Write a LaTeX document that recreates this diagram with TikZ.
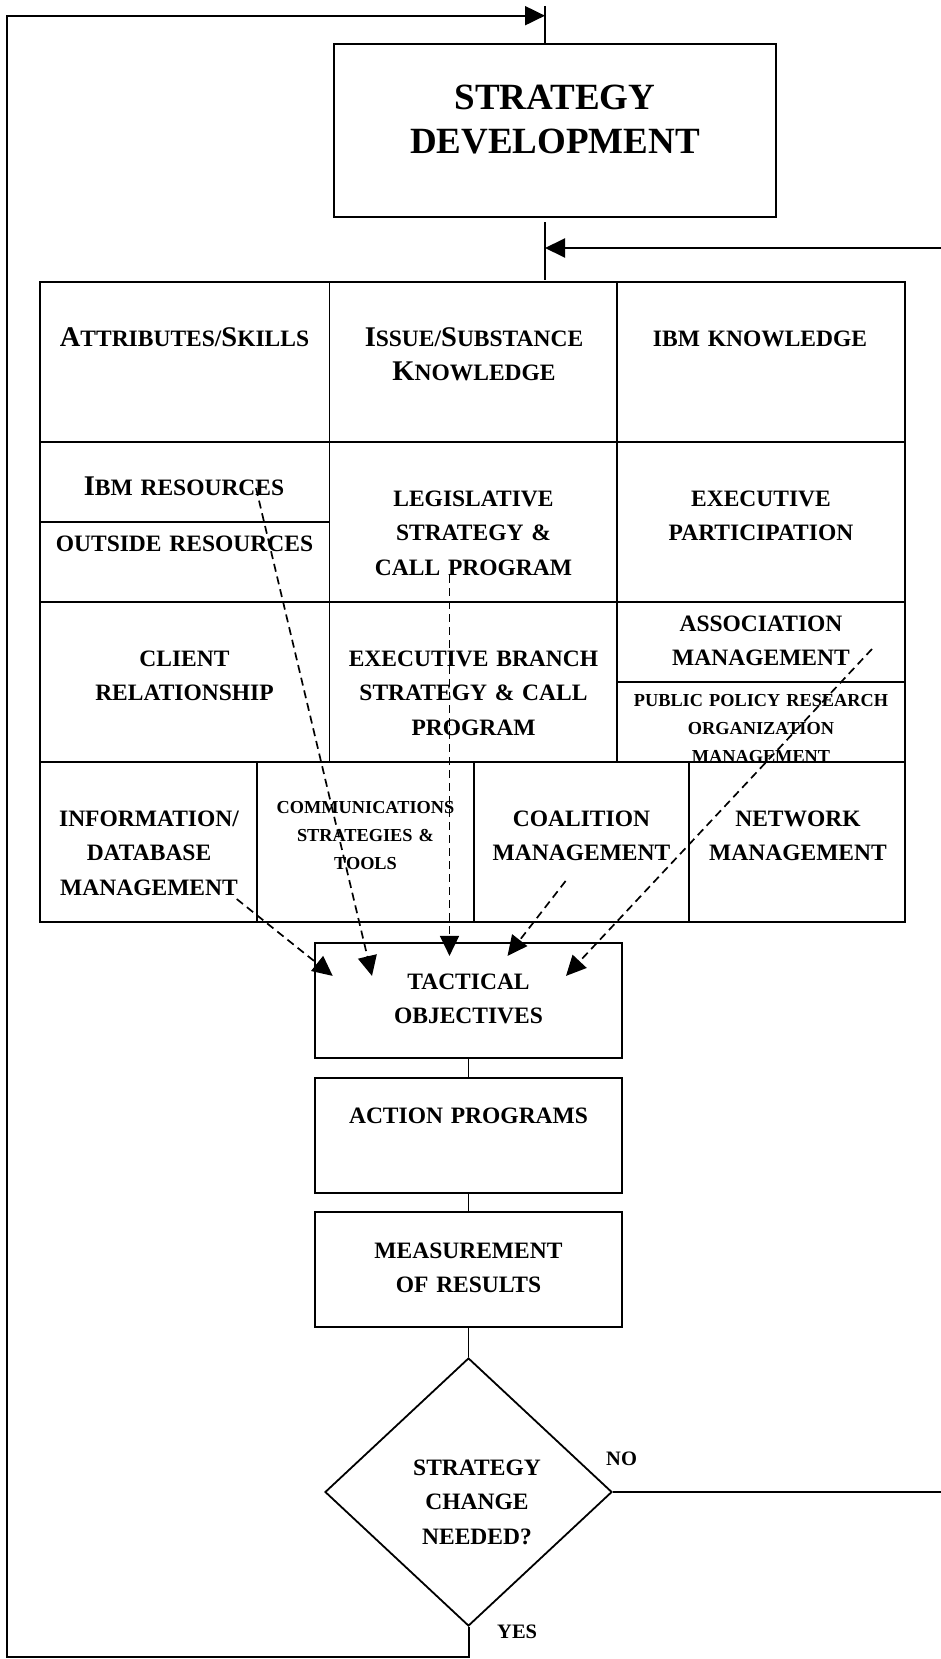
\documentclass[tikz,border=0pt]{standalone}
\usepackage{fontspec}
\setmainfont{Liberation Serif}
\usetikzlibrary{arrows.meta, shapes.geometric}
\newcommand\capA[1]{{\fontsize{28.5}{34.5}\selectfont #1}}

\begin{document}
\begin{tikzpicture}[x=1pt, y=-1pt,
  cell/.style={draw, line width=1.6pt, anchor=north west, inner sep=0pt, outer sep=0pt},
  box/.style={draw, line width=2.2pt, minimum width=307pt, minimum height=115pt, inner sep=0pt},
  txt/.style={anchor=base, align=center, inner sep=0pt, text width=280pt, font=\fontsize{23.5}{34.5}\selectfont\bfseries},
  sm/.style={txt, font=\fontsize{18.3}{28}\selectfont\bfseries},
  arr/.style={-{Triangle[length=20pt, width=19pt]}},
  dsh/.style={arr, line width=1.7pt, dash pattern=on 8pt off 5pt},
  fb/.style={arr, line width=2pt}]
  \useasboundingbox (0,0) rectangle (941,1659);
  \clip (0,0) rectangle (941,1659);

  % strategy development
  \node[box, minimum width=442pt, minimum height=173pt] (sdv) at (555,130.5) {};
  \node[txt, font=\fontsize{37}{44}\selectfont\bfseries, text width=420pt] (sdvT) at (555,110) {STRATEGY\\DEVELOPMENT};

  % grid of skills
  \node[cell, minimum width=289.5pt, minimum height=160pt] (attr) at (40,282) {};
  \node[cell, minimum width=287.5pt, minimum height=160pt] (issue) at (329.5,282) {};
  \node[cell, minimum width=288pt, minimum height=160pt] (ibmk) at (617,282) {};
  \node[cell, minimum width=289.5pt, minimum height=80pt] (ibmres) at (40,442) {};
  \node[cell, minimum width=289.5pt, minimum height=80pt] (outres) at (40,522) {};
  \node[cell, minimum width=287.5pt, minimum height=160pt] (legis) at (329.5,442) {};
  \node[cell, minimum width=288pt, minimum height=160pt] (execp) at (617,442) {};
  \node[cell, minimum width=289.5pt, minimum height=160pt] (client) at (40,602) {};
  \node[cell, minimum width=287.5pt, minimum height=160pt] (execbr) at (329.5,602) {};
  \node[cell, minimum width=288pt, minimum height=80pt] (assoc) at (617,602) {};
  \node[cell, minimum width=288pt, minimum height=80pt] (pubpol) at (617,682) {};
  \node[cell, minimum width=217pt, minimum height=160pt] (info) at (40,762) {};
  \node[cell, minimum width=217pt, minimum height=160pt] (comm) at (257,762) {};
  \node[cell, minimum width=215pt, minimum height=160pt] (coal) at (474,762) {};
  \node[cell, minimum width=216pt, minimum height=160pt] (netw) at (689,762) {};

  \node[txt] (attrT) at (184.5,346) {\capA{A}TTRIBUTES/\capA{S}KILLS};
  \node[txt] (issueT) at (474,346) {\capA{I}SSUE/\capA{S}UBSTANCE\\\capA{K}NOWLEDGE};
  \node[txt] (ibmkT) at (760,346) {IBM KNOWLEDGE};
  \node[txt] (ibmresT) at (184,495) {\capA{I}BM RESOURCES};
  \node[txt] (outresT) at (184.5,551) {OUTSIDE RESOURCES};
  \node[txt] (legisT) at (473.5,506) {LEGISLATIVE\\STRATEGY \&\\CALL PROGRAM};
  \node[txt] (execpT) at (761,506) {EXECUTIVE\\PARTICIPATION};
  \node[txt] (clientT) at (184.5,666) {CLIENT\\RELATIONSHIP};
  \node[txt] (execbrT) at (473.5,666) {EXECUTIVE BRANCH\\STRATEGY \& CALL\\PROGRAM};
  \node[txt] (assocT) at (761,631) {ASSOCIATION\\MANAGEMENT};
  \node[sm] (pubpolT) at (761,706) {PUBLIC POLICY RESEARCH\\ORGANIZATION\\MANAGEMENT};
  \node[txt] (infoT) at (149,826) {INFORMATION/\\DATABASE\\MANAGEMENT};
  \node[sm] (commT) at (365.5,813) {COMMUNICATIONS\\STRATEGIES \&\\TOOLS};
  \node[txt] (coalT) at (581.5,826) {COALITION\\MANAGEMENT};
  \node[txt] (netwT) at (798,826) {NETWORK\\MANAGEMENT};

  % tactical chain
  \node[box] (tac) at (468.5,1000.5) {};
  \node[box] (act) at (468.5,1135.5) {};
  \node[box] (meas) at (468.5,1269.5) {};
  \node[draw, shape=diamond, line width=1.8pt, minimum width=287pt, minimum height=268pt, inner sep=0pt] (chg) at (468.5,1492) {};
  \node[txt] (tacT) at (468.5,989) {TACTICAL\\OBJECTIVES};
  \node[txt] (actT) at (468.5,1123) {ACTION PROGRAMS};
  \node[txt] (measT) at (468.5,1258) {MEASUREMENT\\OF RESULTS};
  \node[txt] (chgT) at (477,1475) {STRATEGY\\CHANGE\\NEEDED?};
  \node[anchor=base west, inner sep=0pt, font=\fontsize{20.5}{24}\selectfont\bfseries] (noT) at (606,1465) {NO};
  \node[anchor=base west, inner sep=0pt, font=\fontsize{20.5}{24}\selectfont\bfseries] (yesT) at (497,1638) {YES};

  \draw[line width=1.8pt] (tac) -- (act);
  \draw[line width=1.8pt] (act) -- (meas);
  \draw[line width=1.8pt] (meas) -- (chg);

  % stems of strategy box
  \coordinate (stubTop) at (545,6);
  \coordinate (inTop) at (545,15.7);
  \coordinate (stubA) at (545,222);
  \coordinate (inMid) at (545,248);
  \coordinate (stubB) at (545,280);
  \draw[line width=1.8pt] (stubTop) -- (stubTop |- sdv.north);
  \draw[line width=1.8pt] (stubA) -- (stubB);

  % feedback loops
  \coordinate (loopL) at (7,1657);
  \coordinate (loopR) at (950,1492);
  \draw[fb] (chg.south) |- (loopL) |- (inTop);
  \draw[fb] (chg.east) -- (loopR) |- (inMid);

  % dashed inputs
  \coordinate (dIbm) at (256,488);
  \coordinate (dLeg) at (449.5,575);
  \coordinate (dAsc) at (872,649);
  \coordinate (dCoa) at (565.6,881);
  \coordinate (dInf) at (236.7,899);
  \draw[dsh] (dInf) -- ([shift={(-135.8,34)}]tac.north);
  \draw[dsh] (dIbm) -- ([shift={(-96.5,34)}]tac.north);
  \draw[dsh] (dLeg) -- ([shift={(-19,14)}]tac.north);
  \draw[dsh] (dCoa) -- ([shift={(39,14)}]tac.north);
  \draw[dsh] (dAsc) -- ([shift={(97.5,34)}]tac.north);
\end{tikzpicture}
\end{document}
